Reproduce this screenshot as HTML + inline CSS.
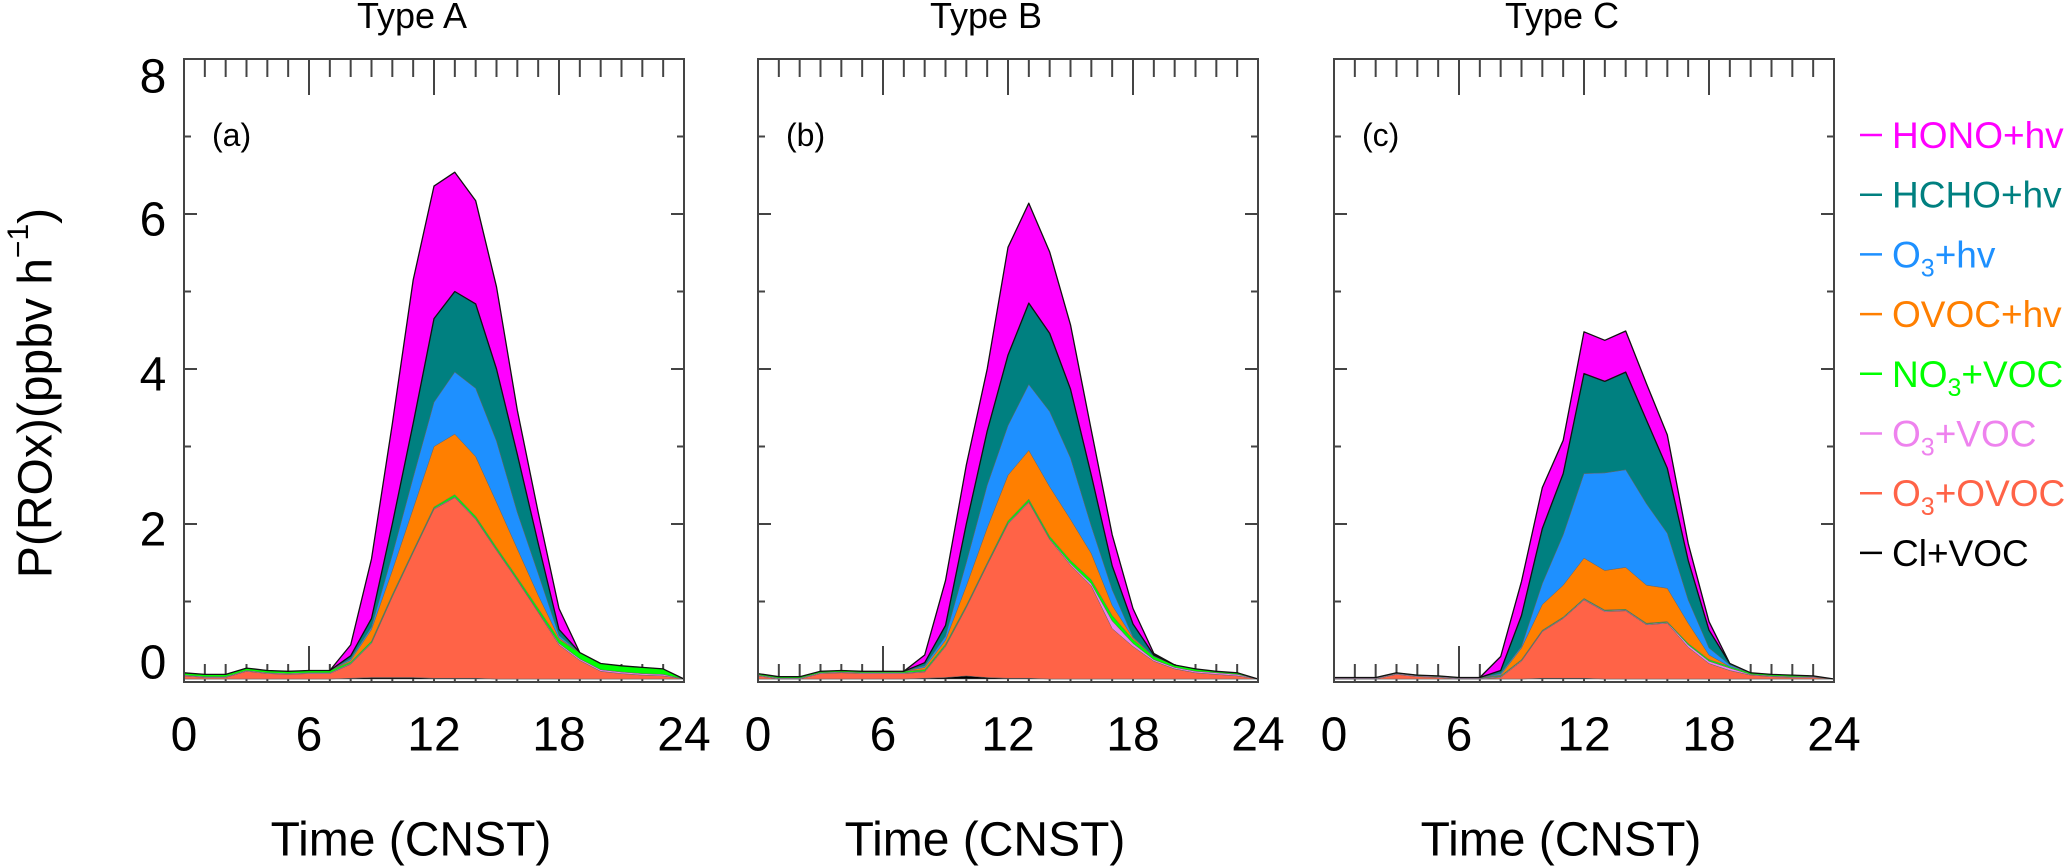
<!DOCTYPE html>
<html>
<head>
<meta charset="utf-8">
<style>
  html,body{margin:0;padding:0;background:#fff;}
  svg{display:block;font-family:"Liberation Sans",sans-serif;}
</style>
</head>
<body>
<svg id="chart" width="2067" height="866" viewBox="0 0 2067 866" xmlns="http://www.w3.org/2000/svg">
  <g id="ticks-layer"></g>
  <g id="areas-layer"></g>
  <g id="frame-layer"></g>
  <g id="text-layer"></g>
  <text x="0" y="0" font-size="48" text-anchor="middle" dominant-baseline="central" transform="translate(36,393) rotate(-90)">P(ROx)(ppbv h<tspan font-size="30" dy="-18">−1</tspan><tspan dy="18">)</tspan></text>
  <g id="legend"></g>
</svg>
<script>
const hours = [0,1,2,3,4,5,6,7,8,9,10,11,12,13,14,15,16,17,18,19,20,21,22,23,24];
const panelTitles = ["Type A","Type B","Type C"];
const panelTags = ["(a)","(b)","(c)"];
const yTickLabels = [0,2,4,6,8];
const xTickLabels = [0,6,12,18,24];
const seriesNames = ["CI+VOC","O3+OVOC","O3+VOC","NO3+VOC","OVOC+hv","O3+hv","HCHO+hv","HONO+hv"];
const seriesColors = ["#000000","#ff6347","#ee82ee","#00ff00","#ff7f00","#1e90ff","#008080","#ff00ff"];

// Panel A (Type A)
const aCl     = [0,0,0,0,0,0,0,0,0.01,0.02,0.02,0.02,0.01,0.01,0.01,0,0,0,0,0,0,0,0,0,0];
const aO3Ovoc = [0.04,0.02,0.02,0.10,0.07,0.06,0.07,0.07,0.18,0.44,1.04,1.61,2.18,2.33,2.05,1.66,1.27,0.86,0.44,0.24,0.10,0.07,0.05,0.04,0];
const aO3Voc  = [0.01,0.01,0.01,0.01,0.01,0.01,0.01,0.01,0.01,0.01,0.01,0.01,0.01,0.01,0.01,0.01,0.01,0.01,0.02,0.02,0.02,0.02,0.02,0.02,0];
const aNo3    = [0.03,0.03,0.03,0.03,0.03,0.03,0.03,0.03,0.02,0.02,0.02,0.02,0.02,0.03,0.03,0.03,0.03,0.04,0.05,0.08,0.08,0.08,0.08,0.07,0];
const aOvoc   = [0,0,0,0,0,0,0,0,0.02,0.15,0.31,0.54,0.78,0.78,0.77,0.58,0.37,0.17,0.02,0,0,0,0,0,0];
const aO3hv   = [0,0,0,0,0,0,0,0,0.02,0.03,0.20,0.40,0.57,0.80,0.88,0.79,0.47,0.28,0.03,0,0,0,0,0,0];
const aHcho   = [0,0,0,0,0,0,0,0,0.04,0.11,0.40,0.70,1.08,1.04,1.09,0.93,0.75,0.39,0.08,0,0,0,0,0,0];
const aHono   = [0,0,0,0,0,0,0,0,0.14,0.77,1.29,1.85,1.71,1.54,1.33,1.06,0.57,0.40,0.27,0,0,0,0,0,0];

// Panel B (Type B)
const bCl     = [0,0,0,0,0,0,0,0,0.01,0.02,0.04,0.02,0.01,0.01,0,0,0,0,0,0,0,0,0,0,0];
const bO3Ovoc = [0.04,0.00,0.00,0.07,0.08,0.07,0.07,0.07,0.08,0.40,0.88,1.45,1.99,2.27,1.80,1.47,1.20,0.65,0.42,0.23,0.13,0.08,0.06,0.04,0];
const bO3Voc  = [0.01,0.01,0.01,0.01,0.01,0.01,0.01,0.01,0.01,0.01,0.01,0.01,0.01,0.01,0.01,0.02,0.03,0.10,0.04,0.02,0.02,0.02,0.02,0.02,0];
const bNo3    = [0.02,0.02,0.02,0.02,0.02,0.02,0.02,0.02,0.02,0.02,0.02,0.02,0.03,0.03,0.03,0.04,0.05,0.07,0.05,0.04,0.03,0.03,0.02,0.02,0];
const bOvoc   = [0,0,0,0,0,0,0,0,0.03,0.05,0.25,0.45,0.59,0.63,0.64,0.53,0.34,0.13,0.02,0,0,0,0,0,0];
const bO3hv   = [0,0,0,0,0,0,0,0,0.02,0.05,0.30,0.55,0.64,0.85,0.97,0.79,0.35,0.20,0.01,0,0,0,0,0,0];
const bHcho   = [0,0,0,0,0,0,0,0,0.04,0.14,0.50,0.70,0.91,1.05,1.01,0.89,0.66,0.31,0.17,0.02,0,0,0,0,0];
const bHono   = [0,0,0,0,0,0,0,0,0.10,0.58,0.76,0.80,1.39,1.29,1.05,0.83,0.58,0.40,0.20,0.02,0,0,0,0,0];

// Panel C (Type C)
const cCl     = [0,0,0,0,0,0,0,0,0,0,0.01,0.01,0.01,0,0,0,0,0,0,0,0,0,0,0,0];
const cO3Ovoc = [0.00,0.00,0.00,0.06,0.03,0.02,0.00,0.00,0.02,0.23,0.60,0.77,1.01,0.87,0.88,0.70,0.72,0.41,0.20,0.11,0.05,0.03,0.02,0.02,0];
const cO3Voc  = [0.01,0.01,0.01,0.01,0.01,0.01,0.01,0.01,0.01,0.01,0.01,0.01,0.01,0.01,0.01,0.01,0.01,0.03,0.03,0.03,0.01,0.01,0.01,0.01,0];
const cNo3    = [0.01,0.01,0.01,0.01,0.01,0.01,0.01,0.01,0.01,0.01,0.01,0.01,0.01,0.01,0.01,0.01,0.01,0.02,0.02,0.02,0.02,0.02,0.02,0.01,0];
const cOvoc   = [0,0,0,0,0,0,0,0,0.01,0.15,0.33,0.41,0.52,0.51,0.54,0.49,0.43,0.26,0.06,0,0,0,0,0,0];
const cO3hv   = [0,0,0,0,0,0,0,0,0.02,0.02,0.27,0.65,1.09,1.26,1.26,1.05,0.71,0.30,0.09,0.02,0,0,0,0,0];
const cHcho   = [0,0,0,0,0,0,0,0,0.04,0.40,0.71,0.79,1.29,1.18,1.26,1.08,0.84,0.51,0.23,0.02,0,0,0,0,0];
const cHono   = [0,0,0,0,0,0,0,0,0.18,0.44,0.53,0.43,0.54,0.53,0.53,0.47,0.43,0.22,0.11,0,0,0,0,0,0];

const panelSeries = [
  [aCl,aO3Ovoc,aO3Voc,aNo3,aOvoc,aO3hv,aHcho,aHono],
  [bCl,bO3Ovoc,bO3Voc,bNo3,bOvoc,bO3hv,bHcho,bHono],
  [cCl,cO3Ovoc,cO3Voc,cNo3,cOvoc,cO3hv,cHcho,cHono]
];

const NS = "http://www.w3.org/2000/svg";
const panelLeft = [184, 758, 1334];
const plotW = 500, plotTop = 59, plotBottom = 682;
const X_MAX = 24, Y_MAX = 8;
function xScale(p, h){ return panelLeft[p] + h / X_MAX * plotW; }
function yScale(v){ return 679 - v * (679 - plotTop) / Y_MAX; }

function mk(tag, attrs, parent){
  const e = document.createElementNS(NS, tag);
  for (const k in attrs) e.setAttribute(k, attrs[k]);
  parent.appendChild(e);
  return e;
}
const ticksL = document.getElementById('ticks-layer');
const areasL = document.getElementById('areas-layer');
const frameL = document.getElementById('frame-layer');
const textL = document.getElementById('text-layer');

for (let p = 0; p < 3; p++){
  const L = panelLeft[p], R = L + plotW;
  for (let h = 1; h < 24; h++){
    const x = xScale(p, h);
    const major = h % 6 === 0;
    const len = major ? 36 : 18;
    const t1 = mk('line', {x1:x, x2:x, y1:plotTop, y2:plotTop+len, stroke:'#444', 'stroke-width':2}, frameL);
    
    
    const t2 = mk('line', {x1:x, x2:x, y1:plotBottom, y2:plotBottom-len, stroke:'#444', 'stroke-width':2}, ticksL);
    
    
  }
  for (let v = 1; v < 8; v++){
    const y = yScale(v);
    const len = v % 2 === 0 ? 13 : 7;
    const t3 = mk('line', {x1:L, x2:L+len, y1:y, y2:y, stroke:'#444', 'stroke-width':2}, frameL);
    
    
    const t4 = mk('line', {x1:R, x2:R-len, y1:y, y2:y, stroke:'#444', 'stroke-width':2}, frameL);
    
    
  }
  const series = panelSeries[p];
  let base = hours.map(() => 0);
  for (let s = 0; s < series.length; s++){
    const top = base.map((b, i) => b + series[s][i]);
    let pts = [];
    for (let i = 0; i < hours.length; i++) pts.push(xScale(p, hours[i]).toFixed(1) + ',' + yScale(top[i]).toFixed(1));
    for (let i = hours.length - 1; i >= 0; i--) pts.push(xScale(p, hours[i]).toFixed(1) + ',' + yScale(base[i]).toFixed(1));
    const isTop = s === series.length - 1;
    const poly = mk('polygon', {points: pts.join(' '), fill: seriesColors[s], stroke: isTop ? '#111' : '#666', 'stroke-width': isTop ? 1.3 : 0.5, 'stroke-linejoin':'round'}, areasL);
    
    
    base = top;
  }
  const fr = mk('rect', {x:L, y:plotTop, width:plotW, height:plotBottom-plotTop, fill:'none', stroke:'#444', 'stroke-width':2}, frameL);
  
  
  const ti = mk('text', {x:L+228, y:28, 'font-size':36, 'text-anchor':'middle'}, textL);
  ti.textContent = panelTitles[p];
  
  
  const tg = mk('text', {x:L+28, y:135, 'font-size':32, 'dominant-baseline':'central'}, textL);
  tg.textContent = panelTags[p];
  
  
  for (const v of xTickLabels){
    const xl = mk('text', {x:xScale(p, v), y:735, 'font-size':48, 'text-anchor':'middle', 'dominant-baseline':'central'}, textL);
    xl.textContent = v;
    
    
  }
  const xt = mk('text', {x:L+227, y:840, 'font-size':48, 'text-anchor':'middle', 'dominant-baseline':'central'}, textL);
  xt.textContent = 'Time (CNST)';
  
  
}
for (const v of yTickLabels){
  let yy = yScale(v) + (v === 0 ? -16 : (v === 8 ? 18 : 6));
  const yl = mk('text', {x:153, y:yy, 'font-size':48, 'text-anchor':'middle', 'dominant-baseline':'central'}, textL);
  yl.textContent = v;
  
  
}
const legendLabels = [
  ["HONO+hv"], ["HCHO+hv"], ["O","3","+hv"], ["OVOC+hv"], ["NO","3","+VOC"], ["O","3","+VOC"], ["O","3","+OVOC"], ["Cl+VOC"]
];
const legendColors = ["#ff00ff","#008080","#1e90ff","#ff7f00","#00ff00","#ee82ee","#ff6347","#000000"];
const legendG = document.getElementById('legend');
for (let i = 0; i < legendLabels.length; i++){
  const y = 135 + 59.7 * i;
  const g = mk('g', {}, legendG);
  
  
  mk('line', {x1:1860, x2:1882, y1:y, y2:y, stroke:legendColors[i], 'stroke-width':2.5}, g);
  const t = mk('text', {x:1892, y:y + 13, 'font-size':37, fill:legendColors[i]}, g);
  const parts = legendLabels[i];
  if (parts.length === 1){ t.textContent = parts[0]; }
  else {
    t.appendChild(document.createTextNode(parts[0]));
    const sub = document.createElementNS(NS, 'tspan');
    sub.setAttribute('font-size', '25'); sub.setAttribute('dy', '9');
    sub.textContent = parts[1];
    t.appendChild(sub);
    const rest = document.createElementNS(NS, 'tspan');
    rest.setAttribute('dy', '-9');
    rest.textContent = parts[2];
    t.appendChild(rest);
  }
}
</script>
</body>
</html>
